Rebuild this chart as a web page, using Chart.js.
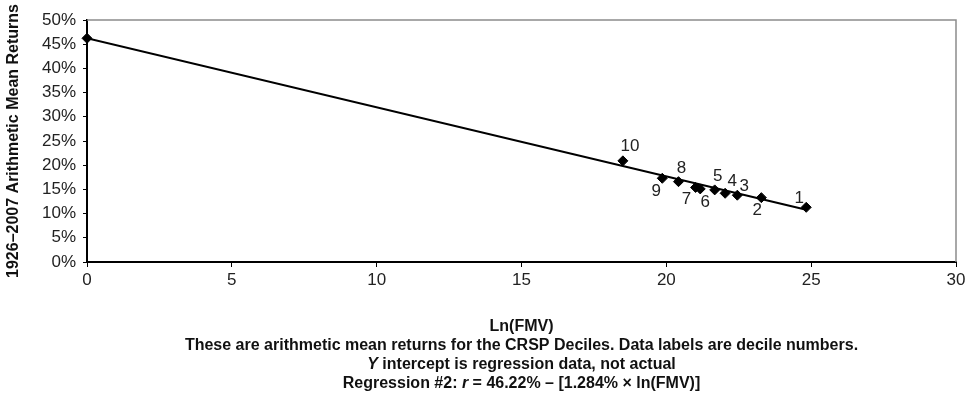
<!DOCTYPE html>
<html>
<head>
<meta charset="utf-8">
<script src="https://cdn.jsdelivr.net/npm/chart.js@4"></script>
<style>
  html, body { margin: 0; padding: 0; background: #fff; }
</style>
</head>
<body>
<canvas id="chart" width="971" height="397"></canvas>
<script>
// CRSP deciles: ln(fair market value) vs arithmetic mean return (%)
var deciles = ["1", "2", "3", "4", "5", "6", "7", "8", "9", "10"];
var lnFmv = [24.83, 23.28, 22.45, 22.03, 21.67, 21.17, 21.01, 20.42, 19.86, 18.50];
var meanReturns = [11.3, 13.3, 13.8, 14.2, 14.9, 15.1, 15.4, 16.6, 17.3, 20.9];

// regression intercept and fitted line ends
var interceptX = [0];
var interceptY = [46.22];
var lineX = [0, 24.83];
var lineY = [46.22, 10.8];

var xTicks = [0, 5, 10, 15, 20, 25, 30];
var yTicks = [0, 5, 10, 15, 20, 25, 30, 35, 40, 45, 50];

// where each decile label sits relative to its point (dx, dy)
var labelOffsets = [[-7, -9], [-4, 13], [7, -9], [7, -12], [3, -14],
                    [5, 13], [-9, 12], [3, -13], [-6, 13], [7, -15]];

function toPoints(xs, ys) {
  var pts = [];
  for (var i = 0; i < xs.length; i++) pts.push({ x: xs[i], y: ys[i] });
  return pts;
}

var FONT = "'Liberation Sans', Arial, Helvetica, sans-serif";

// gray frame on top and right of the plot area
var framePlugin = {
  id: "frame",
  beforeDatasetsDraw: function(chart) {
    var a = chart.chartArea, ctx = chart.ctx;
    ctx.save();
    ctx.strokeStyle = "#8c8c8c";
    ctx.lineWidth = 1.5;
    ctx.beginPath();
    ctx.moveTo(a.left, a.top);
    ctx.lineTo(a.right, a.top);
    ctx.lineTo(a.right, a.bottom);
    ctx.stroke();
    ctx.restore();
  }
};

// decile number next to each point
var labelPlugin = {
  id: "decileLabels",
  afterDatasetsDraw: function(chart) {
    var ctx = chart.ctx;
    var meta = chart.getDatasetMeta(0);
    ctx.save();
    ctx.font = "17px " + FONT;
    ctx.fillStyle = "#222";
    ctx.textAlign = "center";
    ctx.textBaseline = "middle";
    meta.data.forEach(function(pt, i) {
      ctx.fillText(deciles[i], pt.x + labelOffsets[i][0], pt.y + labelOffsets[i][1]);
    });
    ctx.restore();
  }
};

// caption lines under the chart, with italic bits
var captionLines = [
  [["Ln(FMV)", false]],
  [["These are arithmetic mean returns for the CRSP Deciles. Data labels are decile numbers.", false]],
  [["Y", true], [" intercept is regression data, not actual", false]],
  [["Regression #2: ", false], ["r", true], [" = 46.22% \u2013 [1.284% \u00d7 ln(FMV)]", false]]
];

var captionPlugin = {
  id: "caption",
  afterDraw: function(chart) {
    var ctx = chart.ctx;
    var a = chart.chartArea;
    var cx = (a.left + a.right) / 2;
    var y0 = 327, step = 19;
    ctx.save();
    ctx.fillStyle = "#111";
    ctx.textBaseline = "middle";
    ctx.textAlign = "left";
    captionLines.forEach(function(parts, li) {
      var total = 0;
      parts.forEach(function(p) {
        ctx.font = (p[1] ? "italic " : "") + "bold 16px " + FONT;
        total += ctx.measureText(p[0]).width;
      });
      var x = cx - total / 2;
      parts.forEach(function(p) {
        ctx.font = (p[1] ? "italic " : "") + "bold 16px " + FONT;
        ctx.fillText(p[0], x, y0 + li * step);
        x += ctx.measureText(p[0]).width;
      });
    });
    ctx.restore();
  }
};

var ctx = document.getElementById("chart").getContext("2d");

var chart = new Chart(ctx, {
  type: "scatter",
  data: {
    datasets: [{
      label: "Deciles",
      data: toPoints(lnFmv, meanReturns),
      pointStyle: "rectRot",
      pointRadius: 5,
      backgroundColor: "#000",
      borderColor: "#000",
      borderWidth: 1,
      order: 1
    }, {
      label: "Intercept",
      data: toPoints(interceptX, interceptY),
      pointStyle: "rectRot",
      pointRadius: 5,
      backgroundColor: "#000",
      borderColor: "#000",
      borderWidth: 1,
      clip: false,
      order: 1
    }, {
      label: "Regression",
      type: "line",
      data: toPoints(lineX, lineY),
      borderColor: "#000",
      borderWidth: 2,
      pointRadius: 0,
      fill: false,
      order: 2
    }]
  },
  options: {
    responsive: false,
    animation: false,
    layout: { padding: { top: 20, right: 15, left: 0, bottom: 0 } },
    plugins: {
      legend: { display: false },
      tooltip: { enabled: false }
    },
    scales: {
      x: {
        type: "linear",
        min: 0,
        max: 30,
        afterBuildTicks: function(axis) {
          axis.ticks = xTicks.map(function(v) { return { value: v }; });
        },
        afterFit: function(axis) { axis.height = 135; },
        border: { color: "#000", width: 2 },
        grid: { drawOnChartArea: false, color: "#000", tickLength: 5 },
        ticks: { color: "#222", padding: 3, font: { size: 17, family: FONT } }
      },
      y: {
        type: "linear",
        min: 0,
        max: 50,
        afterBuildTicks: function(axis) {
          axis.ticks = yTicks.map(function(v) { return { value: v }; });
        },
        afterFit: function(axis) { axis.width = 87; },
        border: { color: "#000", width: 2 },
        grid: { drawOnChartArea: false, color: "#000", tickLength: 4 },
        ticks: {
          color: "#222",
          padding: 7,
          font: { size: 17, family: FONT },
          callback: function(v) { return v + "%"; }
        },
        title: {
          display: true,
          text: "1926\u20132007 Arithmetic Mean Returns",
          color: "#111",
          padding: { top: 4, bottom: 0 },
          font: { size: 16, weight: "bold", family: FONT }
        }
      }
    }
  },
  plugins: [framePlugin, labelPlugin, captionPlugin]
});
</script>
</body>
</html>
